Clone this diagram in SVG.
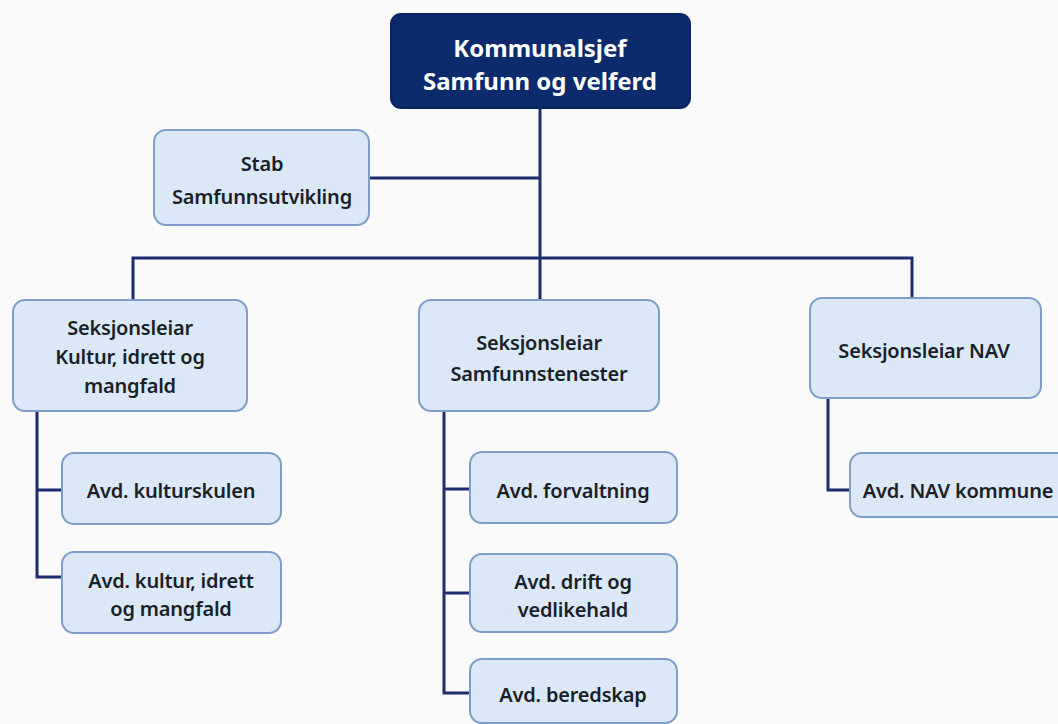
<svg xmlns="http://www.w3.org/2000/svg" width="1058" height="724" viewBox="0 0 1058 724">
<style>
.bg{fill:#fafafa}
.box{fill:#dae8f8;stroke:#7e9dc9;stroke-width:2}
.top{fill:#0c2b6c;stroke:#0a2460;stroke-width:2}
.t{font-family:"Noto Sans","Open Sans",sans-serif;font-size:20px;font-weight:600;fill:#1a1f28;text-anchor:middle;dominant-baseline:central;letter-spacing:-0.2px}
.tw{font-family:"Noto Sans","Open Sans",sans-serif;font-size:24px;font-weight:700;fill:#ffffff;text-anchor:middle;dominant-baseline:central}
.c{fill:none;stroke:#1d2c6c;stroke-width:3}
</style>
<rect class="bg" x="0" y="0" width="1058" height="724"/>
<g id="connectors">
<path class="c" d="M540 108 V258"/>
<path class="c" d="M369 178 H540"/>
<path class="c" d="M133 300 V258 H912 V298"/>
<path class="c" d="M540 258 V300"/>
<path class="c" d="M37 411 V577 H62"/>
<path class="c" d="M37 490 H62"/>
<path class="c" d="M444 411 V693 H470"/>
<path class="c" d="M444 489 H470"/>
<path class="c" d="M444 593 H470"/>
<path class="c" d="M828 398 V490 H850"/>
</g>
<g id="n-top">
<rect class="top" x="391" y="14" width="299" height="94" rx="10"/>
<text class="tw" x="540" y="47">Kommunalsjef</text>
<text class="tw" x="540" y="80">Samfunn og velferd</text>
</g>
<g id="n-stab">
<rect class="box" x="154" y="130" width="215" height="95" rx="12"/>
<text class="t" x="262" y="163">Stab</text>
<text class="t" x="262" y="196">Samfunnsutvikling</text>
</g>
<g id="n-kultur">
<rect class="box" x="13" y="300" width="234" height="111" rx="12"/>
<text class="t" x="130" y="327">Seksjonsleiar</text>
<text class="t" x="130" y="356">Kultur, idrett og</text>
<text class="t" x="130" y="385">mangfald</text>
</g>
<g id="n-samf">
<rect class="box" x="419" y="300" width="240" height="111" rx="12"/>
<text class="t" x="539" y="342">Seksjonsleiar</text>
<text class="t" x="539" y="373">Samfunnstenester</text>
</g>
<g id="n-nav">
<rect class="box" x="810" y="298" width="231" height="100" rx="12"/>
<text class="t" x="924" y="350">Seksjonsleiar NAV</text>
</g>
<g id="n-kulturskulen">
<rect class="box" x="62" y="453" width="219" height="71" rx="12"/>
<text class="t" x="171" y="490">Avd. kulturskulen</text>
</g>
<g id="n-kulturidrett">
<rect class="box" x="62" y="552" width="219" height="81" rx="12"/>
<text class="t" x="171" y="580">Avd. kultur, idrett</text>
<text class="t" x="171" y="608">og mangfald</text>
</g>
<g id="n-forvaltning">
<rect class="box" x="470" y="452" width="207" height="71" rx="12"/>
<text class="t" x="573" y="490">Avd. forvaltning</text>
</g>
<g id="n-drift">
<rect class="box" x="470" y="554" width="207" height="78" rx="12"/>
<text class="t" x="573" y="581">Avd. drift og</text>
<text class="t" x="573" y="609">vedlikehald</text>
</g>
<g id="n-beredskap">
<rect class="box" x="470" y="659" width="207" height="64" rx="12"/>
<text class="t" x="573" y="694">Avd. beredskap</text>
</g>
<g id="n-navkommune">
<rect class="box" x="850" y="453" width="220" height="64" rx="12"/>
<text class="t" x="958" y="490">Avd. NAV kommune</text>
</g>
</svg>
